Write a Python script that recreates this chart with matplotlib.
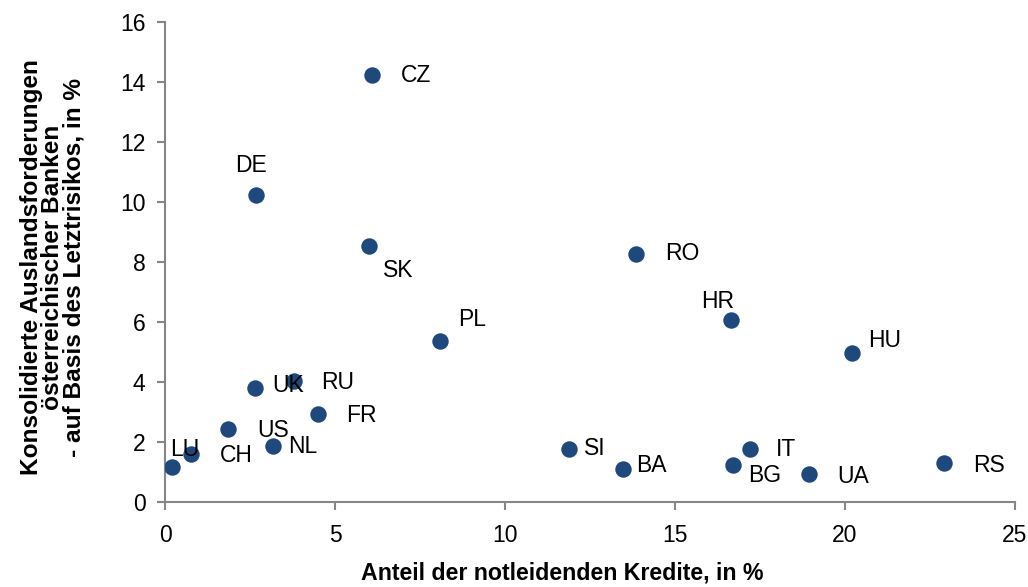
import matplotlib.pyplot as plt

plt.rcParams['font.family'] = ['Liberation Sans', 'DejaVu Sans']

# country codes, NPL ratio (x) and share of foreign claims (y)
countries = ['CZ', 'DE', 'SK', 'RO', 'HR', 'HU', 'PL', 'RU', 'UK', 'FR',
             'US', 'NL', 'LU', 'CH', 'SI', 'BA', 'BG', 'IT', 'UA', 'RS']
npl = [6.09, 2.68, 6.0, 13.85, 16.65, 20.2, 8.09, 3.79, 2.65, 4.5,
       1.85, 3.18, 0.21, 0.76, 11.88, 13.47, 16.7, 17.2, 18.94, 22.9]
claims = [14.23, 10.23, 8.53, 8.27, 6.07, 4.97, 5.37, 4.03, 3.8, 2.93,
          2.43, 1.87, 1.17, 1.6, 1.77, 1.1, 1.23, 1.77, 0.93, 1.3]

# label offsets in pixels
offsets = {'CZ': (44, 0), 'DE': (-5, 30), 'SK': (29, -24), 'RO': (46, 0),
           'HR': (-13, 18), 'HU': (33, 12), 'PL': (32, 21), 'RU': (44, -1),
           'UK': (33, 2), 'FR': (43, -1), 'US': (45, -1), 'NL': (30, -1),
           'LU': (13, 17), 'CH': (45, -2), 'SI': (26, 0), 'BA': (28, 4),
           'BG': (32, -10), 'IT': (36, -1), 'UA': (44, -2), 'RS': (45, -2)}

fig = plt.figure(figsize=(10.28, 5.87), dpi=100)
ax = fig.add_axes([165 / 1028, 1 - 502 / 587, 850 / 1028, 480 / 587])

ax.scatter(npl, claims, s=140, color='#1F497D', zorder=3, linewidths=0)
for c, x, y in zip(countries, npl, claims):
    dx, dy = offsets[c]
    ax.annotate(c, (x, y), xytext=(dx, dy), textcoords='offset pixels',
                ha='center', va='center', fontsize=16.5, zorder=4)

ax.set_xlim(0, 25)
ax.set_ylim(0, 16)
ax.set_xticks(range(0, 26, 5))
ax.set_yticks(range(0, 17, 2))
for s in ['top', 'right']:
    ax.spines[s].set_visible(False)
for s in ['left', 'bottom']:
    ax.spines[s].set_color('#868686')
    ax.spines[s].set_linewidth(1.5)
ax.tick_params(direction='out', length=6, width=1.5, color='#868686',
               labelsize=16.5)
ax.tick_params(axis='x', pad=10)
ax.tick_params(axis='y', pad=8)

ax.set_xlabel('Anteil der notleidenden Kredite, in %', fontsize=16.7,
              fontweight='bold')
ax.xaxis.set_label_coords(0.467, -0.124)
ax.set_ylabel('Konsolidierte Auslandsforderungen\nösterreichischer Banken\n'
              '- auf Basis des Letztrisikos, in %', fontsize=17.6,
              fontweight='bold', linespacing=0.92)
ax.yaxis.set_label_coords(-0.093, 0.4885)

fig.savefig('out.png', dpi=100)
